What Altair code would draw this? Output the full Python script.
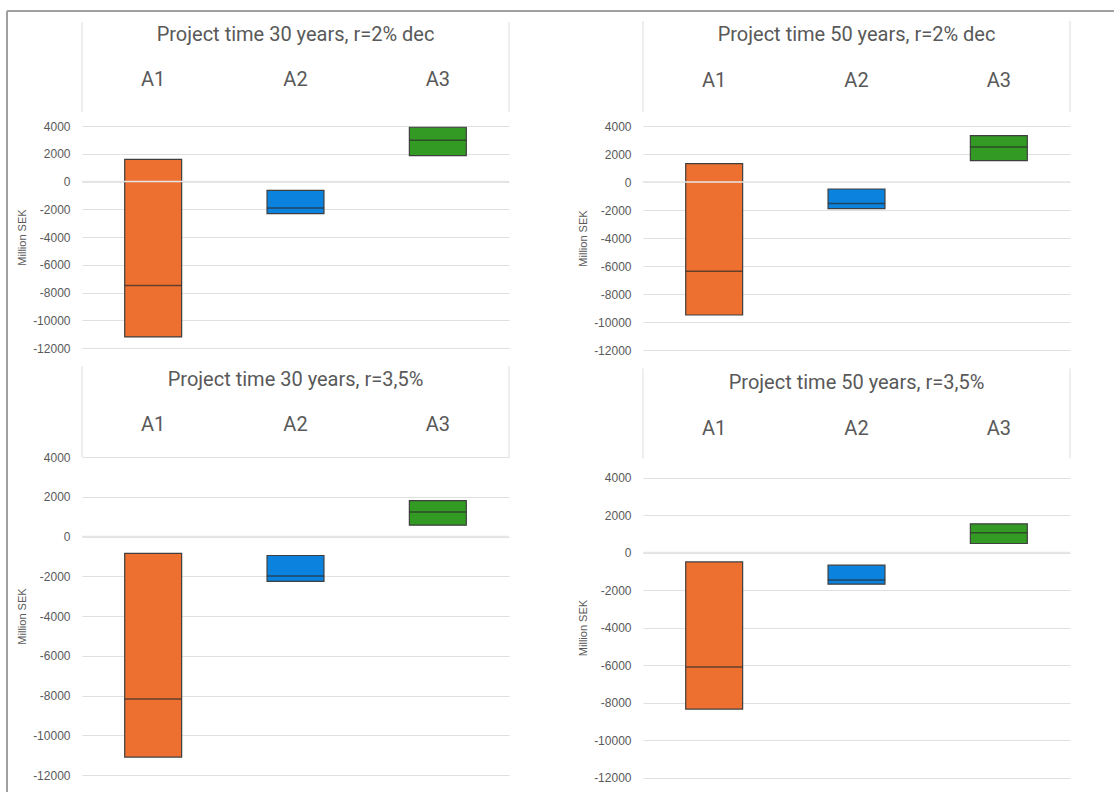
import altair as alt
import pandas as pd

# ---- data ----
alternatives = ["A1", "A2", "A3"]
panel_titles = [
    "Project time 30 years, r=2% dec",
    "Project time 50 years, r=2% dec",
    "Project time 30 years, r=3,5%",
    "Project time 50 years, r=3,5%",
]
low_values = [
    [-11200, -2320, 1860],
    [-9500, -1900, 1530],
    [-11100, -2260, 570],
    [-8350, -1690, 480],
]
mid_values = [
    [-7500, -1910, 2970],
    [-6380, -1540, 2500],
    [-8180, -1990, 1230],
    [-6100, -1460, 1050],
]
high_values = [
    [1600, -640, 3910],
    [1310, -500, 3310],
    [-850, -955, 1810],
    [-500, -675, 1530],
]
y_ticks = [-12000, -10000, -8000, -6000, -4000, -2000, 0, 2000, 4000]
y_title = "Million SEK"
bar_colors = ["#ED7030", "#0A82DE", "#339A24"]

# ---- styles ----
TITLE_FONT = "Roboto"
AXIS_FONT = "Liberation Sans"
TEXT_COLOR = "#595959"
GRID_COLOR = "#E0E0E0"
W = 427

deco_data = alt.Data(values=[{}])


def panel(i, height, top_gap, title_dy, cat_dy, line_top, line_bottom, frame=False):
    """top_gap: empty pixels above the plot area inside the cell."""
    df = pd.DataFrame({
        "alt": alternatives,
        "low": low_values[i],
        "mid": mid_values[i],
        "high": high_values[i],
    })
    base = alt.Chart(df)
    x = alt.X("alt:N", scale=alt.Scale(domain=alternatives, paddingInner=0.6,
                                        paddingOuter=0.3), axis=None)
    if top_gap:
        yscale = alt.Scale(domain=[y_ticks[0], y_ticks[-1]], nice=False, zero=False,
                           range=[height + top_gap, top_gap])
    else:
        yscale = alt.Scale(domain=[y_ticks[0], y_ticks[-1]], nice=False, zero=False)
    yaxis = alt.Axis(values=y_ticks, tickCount=len(y_ticks) * 2, grid=True,
                     gridColor=GRID_COLOR, gridWidth=1.2,
                     domain=False, ticks=False, tickSize=0, labelFont=AXIS_FONT,
                     labelFontSize=12, labelColor=TEXT_COLOR, labelPadding=12,
                     labelOverlap=False, labelExpr="datum.value + ''",
                     title=y_title, titleFont=AXIS_FONT, titleFontSize=11,
                     titleFontWeight="normal", titleColor=TEXT_COLOR, titlePadding=5)
    bars = base.mark_bar(stroke="#3F3F3F", strokeWidth=1.2).encode(
        x=x,
        y=alt.Y("low:Q", scale=yscale, axis=yaxis),
        y2="high:Q",
        color=alt.Color("alt:N", scale=alt.Scale(domain=alternatives, range=bar_colors),
                        legend=None),
    )
    mids = base.mark_tick(color="#2B2B2B", thickness=1.5, size=57).encode(
        x=x, y=alt.Y("mid:Q", scale=yscale)
    )
    deco = alt.Chart(deco_data)
    zero = deco.mark_rule(color="#E6E6E6", strokeWidth=1.5).encode(y=alt.datum(0))
    cats = base.mark_text(fontSize=20, color=TEXT_COLOR, font=TITLE_FONT,
                          baseline="middle").encode(
        x=x, y=alt.value(cat_dy + top_gap), text="alt:N"
    )
    title = deco.mark_text(fontSize=20, color=TEXT_COLOR, font=TITLE_FONT,
                           baseline="middle", align="center").encode(
        x=alt.value(W / 2), y=alt.value(title_dy + top_gap),
        text=alt.value(panel_titles[i])
    )
    hl = deco.mark_rule(color="#E8E8E8", strokeWidth=1.5).encode(
        x=alt.value(0), y=alt.value(line_top + top_gap), y2=alt.value(line_bottom + top_gap))
    hr = deco.mark_rule(color="#E8E8E8", strokeWidth=1.5).encode(
        x=alt.value(W), y=alt.value(line_top + top_gap), y2=alt.value(line_bottom + top_gap))
    layers = [bars, zero, mids, cats, title, hl, hr]
    if frame:
        fl = deco.mark_rule(color="#A0A0A0", strokeWidth=2).encode(
            x=alt.value(-75), y=alt.value(-115), y2=alt.value(666))
        ft = deco.mark_rule(color="#A0A0A0", strokeWidth=2).encode(
            x=alt.value(-75), x2=alt.value(1032), y=alt.value(-115))
        layers += [fl, ft]
    return alt.layer(*layers).properties(width=W, height=height + top_gap)


p1 = panel(0, 222, 0, -91, -46, -104, -14, frame=True)
p2 = panel(1, 224, 0, -91, -45, -105, -14)
p3 = panel(2, 318, 0, -77, -32, -91, 0)
p4 = panel(3, 300, 20.5, -95, -49, -109, -19)

chart = alt.concat(p1, p2, p3, p4, columns=2, spacing=alt.RowColnumber(row=107, column=134),
                   bounds="flush").properties(
    padding={"left": 6, "top": 10, "right": 0, "bottom": 0},
    background="white",
).configure_view(strokeWidth=0)

chart.save("out.html", embed_options={"renderer": "svg", "actions": False})
